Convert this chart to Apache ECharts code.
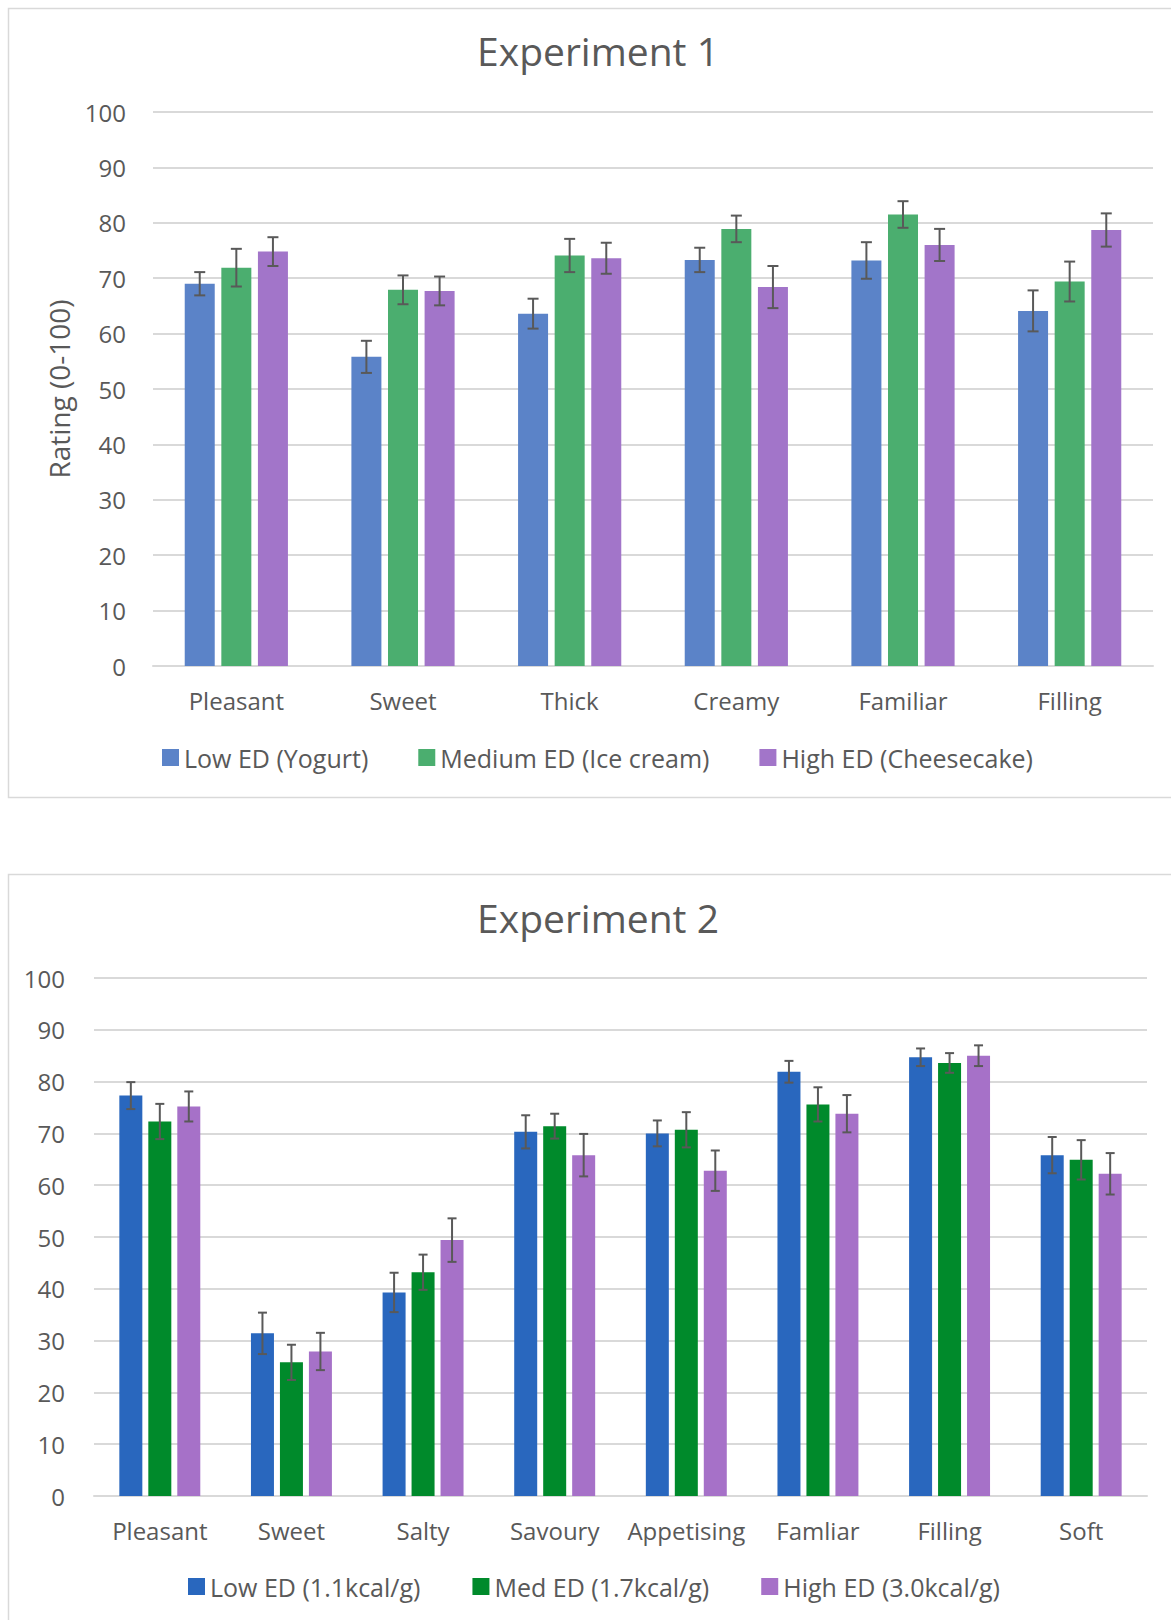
<!DOCTYPE html>
<html>
<head>
<meta charset="utf-8">
<script src="https://cdn.jsdelivr.net/npm/echarts@6/dist/echarts.min.js"></script>
<style>
  html, body { margin: 0; padding: 0; background: #fff; overflow: hidden; }
  #chart { width: 1171px; height: 1620px; }
</style>
</head>
<body>
<div id="chart"></div>
<script>
// Experiment 1
const exp1Categories = ['Pleasant', 'Sweet', 'Thick', 'Creamy', 'Familiar', 'Filling'];
const exp1SeriesNames = ['Low ED (Yogurt)', 'Medium ED (Ice cream)', 'High ED (Cheesecake)'];
const exp1Low = [69.0, 55.8, 63.6, 73.3, 73.2, 64.1];
const exp1LowErr = [2.1, 2.9, 2.7, 2.2, 3.3, 3.7];
const exp1Med = [71.9, 67.9, 74.1, 78.9, 81.5, 69.4];
const exp1MedErr = [3.4, 2.6, 3.0, 2.4, 2.4, 3.6];
const exp1High = [74.8, 67.7, 73.6, 68.4, 76.0, 78.7];
const exp1HighErr = [2.6, 2.6, 2.8, 3.8, 2.9, 3.0];

// Experiment 2
const exp2Categories = ['Pleasant', 'Sweet', 'Salty', 'Savoury', 'Appetising', 'Famliar', 'Filling', 'Soft'];
const exp2SeriesNames = ['Low ED (1.1kcal/g)', 'Med ED (1.7kcal/g)', 'High ED (3.0kcal/g)'];
const exp2Low = [77.3, 31.4, 39.3, 70.3, 70.0, 81.9, 84.7, 65.8];
const exp2LowErr = [2.6, 4.0, 3.8, 3.2, 2.5, 2.1, 1.7, 3.5];
const exp2Med = [72.3, 25.8, 43.2, 71.4, 70.7, 75.6, 83.6, 64.9];
const exp2MedErr = [3.4, 3.4, 3.4, 2.4, 3.4, 3.3, 1.9, 3.8];
const exp2High = [75.2, 27.9, 49.4, 65.8, 62.8, 73.8, 85.0, 62.2];
const exp2HighErr = [2.9, 3.6, 4.2, 4.1, 3.9, 3.6, 2.0, 4.0];

const yTicks = { min: 0, max: 100, interval: 10 };

const textColor = '#595959';
const gridColor = '#D9D9D9';
const fontFamily = '"Open Sans", "Noto Sans", sans-serif';
const colors1 = ['#5B83C8', '#4BAE6F', '#A275C9'];
const colors2 = ['#2967BE', '#008A2B', '#A671C8'];

// error bar drawn with custom series, shifted to sit on its bar
function errorSeries(values, errors, idx, axisIdx, barW, gapFrac, capHalf) {
  return {
    type: 'custom',
    xAxisIndex: axisIdx,
    yAxisIndex: axisIdx,
    z: 10,
    silent: true,
    data: values.map((v, i) => [i, v - errors[i], v + errors[i]]),
    encode: { x: 0, y: [1, 2] },
    renderItem: (params, api) => {
      const cat = api.value(0);
      const lo = api.coord([cat, api.value(1)]);
      const hi = api.coord([cat, api.value(2)]);
      const x = lo[0] + (idx - 1) * barW * (1 + gapFrac);
      const style = { stroke: '#595959', lineWidth: 2 };
      return {
        type: 'group',
        children: [
          { type: 'line', shape: { x1: x, y1: lo[1], x2: x, y2: hi[1] }, style },
          { type: 'line', shape: { x1: x - capHalf, y1: hi[1], x2: x + capHalf, y2: hi[1] }, style },
          { type: 'line', shape: { x1: x - capHalf, y1: lo[1], x2: x + capHalf, y2: lo[1] }, style }
        ]
      };
    }
  };
}

function barSeries(name, values, color, axisIdx, barW, gapFrac) {
  return {
    name, type: 'bar',
    xAxisIndex: axisIdx, yAxisIndex: axisIdx,
    barWidth: barW, barGap: (gapFrac * 100) + '%',
    itemStyle: { color },
    data: values
  };
}

const B1 = 30, G1 = 0.22, B2 = 23, G2 = 0.26;

const yAxisBase = (axisIdx, margin) => ({
  type: 'value', gridIndex: axisIdx,
  min: yTicks.min, max: yTicks.max, interval: yTicks.interval,
  axisLine: { show: false }, axisTick: { show: false },
  axisLabel: { color: textColor, fontSize: 24, fontFamily, margin },
  splitLine: { lineStyle: { color: gridColor, width: 2 } }
});

const xAxisBase = (axisIdx, cats, margin) => ({
  type: 'category', gridIndex: axisIdx, data: cats,
  axisLine: { lineStyle: { color: gridColor, width: 2 } },
  axisTick: { show: false },
  axisLabel: { color: textColor, fontSize: 24, fontFamily, margin, interval: 0 }
});

const option = {
  backgroundColor: '#fff',
  animation: false,
  graphic: [
    { type: 'rect', shape: { x: 8.5, y: 8.5, width: 1200, height: 789 }, style: { fill: 'none', stroke: gridColor, lineWidth: 1.5 } },
    { type: 'rect', shape: { x: 8.5, y: 874.5, width: 1200, height: 800 }, style: { fill: 'none', stroke: gridColor, lineWidth: 1.5 } }
  ],
  title: [
    { text: 'Experiment 1', left: 593, top: 26, textAlign: 'center',
      textStyle: { color: textColor, fontSize: 39, fontWeight: 'normal', fontFamily } },
    { text: 'Experiment 2', left: 593, top: 893, textAlign: 'center',
      textStyle: { color: textColor, fontSize: 39, fontWeight: 'normal', fontFamily } }
  ],
  legend: [
    { data: exp1SeriesNames, left: 157, top: 740, icon: 'rect', itemWidth: 17, itemHeight: 17, itemGap: 50,
      textStyle: { color: textColor, fontSize: 25, fontFamily } },
    { data: exp2SeriesNames, left: 183, top: 1569, icon: 'rect', itemWidth: 17, itemHeight: 17, itemGap: 52,
      textStyle: { color: textColor, fontSize: 25, fontFamily } }
  ],
  grid: [
    { left: 153, right: 18, top: 112, height: 554 },
    { left: 94, right: 24, top: 978, height: 518 }
  ],
  xAxis: [xAxisBase(0, exp1Categories, 22), xAxisBase(1, exp2Categories, 22)],
  yAxis: [
    Object.assign(yAxisBase(0, 27), {
      name: 'Rating (0-100)', nameLocation: 'middle', nameGap: 80,
      nameTextStyle: { color: textColor, fontSize: 28, fontFamily }
    }),
    yAxisBase(1, 29)
  ],
  series: [
    barSeries(exp1SeriesNames[0], exp1Low, colors1[0], 0, B1, G1),
    barSeries(exp1SeriesNames[1], exp1Med, colors1[1], 0, B1, G1),
    barSeries(exp1SeriesNames[2], exp1High, colors1[2], 0, B1, G1),
    errorSeries(exp1Low, exp1LowErr, 0, 0, B1, G1, 5.5),
    errorSeries(exp1Med, exp1MedErr, 1, 0, B1, G1, 5.5),
    errorSeries(exp1High, exp1HighErr, 2, 0, B1, G1, 5.5),
    barSeries(exp2SeriesNames[0], exp2Low, colors2[0], 1, B2, G2),
    barSeries(exp2SeriesNames[1], exp2Med, colors2[1], 1, B2, G2),
    barSeries(exp2SeriesNames[2], exp2High, colors2[2], 1, B2, G2),
    errorSeries(exp2Low, exp2LowErr, 0, 1, B2, G2, 4.5),
    errorSeries(exp2Med, exp2MedErr, 1, 1, B2, G2, 4.5),
    errorSeries(exp2High, exp2HighErr, 2, 1, B2, G2, 4.5)
  ]
};

const chart = echarts.init(document.getElementById('chart'), null, { renderer: 'svg' });
chart.setOption(option);
</script>
</body>
</html>
